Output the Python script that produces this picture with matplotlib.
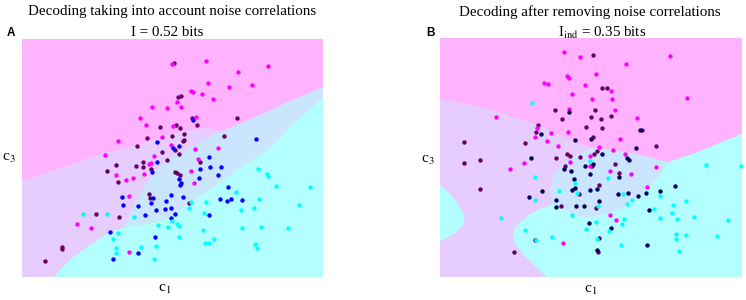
import matplotlib
matplotlib.use('Agg')
import matplotlib.pyplot as plt

plt.rcParams['font.family'] = ['Liberation Serif', 'DejaVu Serif']
plt.rcParams['mathtext.fontset'] = 'stix'

# --- data (c1, c3); c3 axis runs downward ---

# panel A: decoding with noise correlations
a_magenta = [(172, 64), (206, 61), (238, 72), (268, 66), (208, 83), (229, 87), (252, 85),
             (191, 91), (193, 92), (202, 94), (213, 99), (177, 102), (181, 107), (152, 107),
             (167, 108), (196, 117), (140, 118), (146, 125), (173, 126), (162, 137), (118, 141),
             (171, 145), (218, 148), (195, 149), (105, 155), (154, 156), (198, 159), (149, 164),
             (151, 163), (116, 175), (126, 180), (133, 178), (144, 174), (191, 171), (194, 183),
             (129, 196), (77, 224), (91, 228), (129, 252)]
a_dark = [(174, 63), (178, 97), (181, 96), (192, 118), (237, 118), (197, 125), (160, 127),
          (176, 125), (180, 128), (184, 134), (172, 136), (147, 138), (224, 136), (183, 141),
          (184, 140), (137, 146), (175, 150), (179, 154), (162, 152), (200, 162), (167, 160),
          (116, 165), (136, 166), (143, 162), (143, 167), (151, 169), (107, 171), (118, 182),
          (175, 172), (177, 173), (180, 175), (149, 194), (150, 198), (189, 203), (119, 217),
          (96, 214), (62, 247), (62, 249), (45, 261)]
a_blue = [(193, 120), (256, 139), (157, 142), (179, 146), (173, 148), (209, 157), (157, 162),
          (152, 172), (210, 167), (221, 167), (200, 169), (218, 175), (199, 178), (179, 179),
          (181, 183), (180, 185), (228, 187), (122, 197), (153, 198), (171, 195), (151, 203),
          (166, 201), (183, 197), (220, 199), (227, 201), (231, 199), (242, 200), (123, 205),
          (138, 206), (156, 210), (165, 209), (171, 208), (209, 215), (175, 214), (145, 215),
          (171, 218), (110, 232), (155, 237), (138, 253), (113, 259)]
a_cyan = [(258, 169), (267, 174), (268, 176), (276, 186), (310, 187), (236, 192), (191, 202),
          (206, 202), (259, 199), (299, 205), (189, 208), (241, 210), (254, 208), (204, 213),
          (172, 221), (83, 214), (107, 214), (134, 217), (158, 225), (168, 227), (177, 224),
          (179, 226), (242, 228), (261, 227), (288, 228), (118, 233), (203, 230), (113, 239),
          (179, 237), (214, 239), (205, 243), (209, 243), (156, 246), (116, 248), (141, 247),
          (255, 244), (257, 248), (116, 253), (154, 259)]

# decision region edges, panel A
a_pink_edge = [(22, 181), (60, 168), (98, 155), (125, 148), (150, 141), (175, 133), (195, 129),
               (208, 128), (218, 130), (222, 131), (260, 115), (290, 101), (323, 87)]
a_split_edge = [(222, 131), (200, 142), (187, 150), (171, 157), (160, 166), (150, 178),
                (142, 190), (134, 205), (128, 217), (124, 227)]
a_cyan_edge = [(54, 277), (60, 270), (72, 258), (90, 245), (108, 233), (124, 227), (150, 224),
               (170, 217), (190, 203), (215, 186), (240, 168), (260, 155), (270, 148),
               (295, 122), (323, 98)]

# panel B: decoding after removing noise correlations
b_magenta = [(564, 52), (580, 57), (670, 56), (626, 64), (596, 74), (567, 76), (569, 78),
             (544, 83), (548, 84), (585, 85), (611, 91), (572, 94), (592, 99), (612, 99),
             (687, 98), (569, 109), (615, 110), (637, 118), (496, 117), (537, 128), (551, 133),
             (568, 132), (535, 137), (547, 141), (620, 139), (558, 146), (599, 147), (613, 150),
             (625, 154), (590, 156), (524, 163), (510, 169), (570, 162), (590, 166), (656, 167),
             (610, 171), (631, 174), (647, 187), (610, 215), (616, 220), (563, 243)]
b_dark = [(593, 55), (602, 88), (607, 88), (555, 110), (595, 110), (591, 117), (601, 119),
          (611, 116), (562, 119), (538, 125), (586, 127), (602, 128), (536, 132), (642, 130),
          (593, 137), (464, 142), (525, 143), (656, 146), (597, 151), (594, 154), (567, 154),
          (570, 156), (556, 158), (580, 157), (480, 160), (464, 163), (565, 166), (592, 166),
          (615, 164), (619, 173), (480, 189), (599, 185), (579, 194), (561, 206), (596, 208),
          (535, 240), (599, 238), (598, 252), (514, 252)]
b_navy = [(569, 112), (541, 134), (640, 130), (575, 140), (591, 139), (636, 148), (531, 158),
          (602, 154), (627, 158), (629, 160), (564, 169), (571, 171), (585, 166), (593, 164),
          (619, 177), (590, 174), (574, 179), (575, 188), (572, 190), (542, 191), (590, 190),
          (597, 189), (675, 186), (646, 193), (618, 194), (628, 193), (638, 196), (660, 191),
          (529, 197), (556, 200), (556, 207), (576, 206), (584, 206), (599, 201), (649, 210),
          (589, 223), (611, 228), (647, 245), (597, 250)]
b_cyan = [(532, 103), (590, 161), (535, 177), (575, 183), (559, 191), (577, 193), (608, 178),
          (623, 194), (660, 196), (535, 200), (598, 206), (627, 204), (632, 200), (501, 218),
          (572, 215), (624, 219), (622, 224), (654, 209), (660, 218), (672, 213), (673, 205),
          (677, 219), (686, 201), (694, 217), (728, 220), (706, 165), (596, 222), (586, 229),
          (609, 231), (525, 230), (552, 237), (536, 240), (597, 239), (621, 245), (676, 234),
          (676, 239), (686, 235), (717, 236), (679, 251), (741, 166)]

# decision region edges, panel B
b_pink_edge = [(440, 99), (460, 102), (480, 107), (500, 112), (520, 119), (540, 126), (560, 135),
               (580, 144), (592, 148), (605, 149), (620, 151), (645, 156), (668, 162),
               (690, 155), (715, 145), (742, 134)]
b_blob_edge = [(592, 148), (578, 154), (565, 162), (556, 172), (551, 183), (550, 195),
               (553, 204)]
b_cyan_edge = [(547, 277), (535, 266), (522, 253), (514, 242), (513, 232), (518, 224),
               (530, 214), (542, 208), (553, 204), (565, 210), (578, 216), (590, 218),
               (607, 214), (623, 208), (638, 198), (650, 187), (660, 175), (668, 162),
               (690, 155), (715, 145), (742, 134)]
b_left_bulge = [(440, 185), (448, 192), (456, 201), (462, 210), (465, 218), (462, 227),
                (454, 234), (440, 241)]

# colours
PINK = '#ffb3ff'
LAVENDER = '#e6ccff'
LIGHTBLUE = '#cce5ff'
CYANBG = '#b3ffff'
col_magenta = '#ff00ff'
col_dark = '#660066'
col_cyan = '#00ffff'


def fill_poly(ax, pts, color):
    xs, ys = zip(*pts)
    ax.fill(xs, ys, color=color, lw=0, zorder=1)


def dots(ax, pts, color):
    xs, ys = zip(*pts)
    ax.scatter(xs, ys, s=10, c=color, lw=0, zorder=3)


fig = plt.figure(figsize=(7.46, 3.0), dpi=100)

# panel A
xa0, xa1, ya0, ya1 = 22, 323, 39, 277
axA = fig.add_axes([xa0 / 746, 1 - ya1 / 300, (xa1 - xa0) / 746, (ya1 - ya0) / 300])
axA.set_facecolor(PINK)
fill_poly(axA, a_pink_edge + [(xa1, ya1), (xa0, ya1)], LAVENDER)
fill_poly(axA, a_split_edge + [(124, ya1), (xa1, ya1)] + a_pink_edge[::-1][:4], LIGHTBLUE)
fill_poly(axA, a_cyan_edge + [(xa1, ya1)], CYANBG)
dots(axA, a_dark, col_dark)
dots(axA, a_magenta, col_magenta)
dots(axA, a_blue, '#0000ff')
dots(axA, a_cyan, col_cyan)
axA.set_xlim(xa0, xa1)
axA.set_ylim(ya1, ya0)

# panel B
xb0, xb1, yb0, yb1 = 440, 742, 38, 277
axB = fig.add_axes([xb0 / 746, 1 - yb1 / 300, (xb1 - xb0) / 746, (yb1 - yb0) / 300])
axB.set_facecolor(PINK)
fill_poly(axB, b_pink_edge + [(xb1, yb1), (xb0, yb1)], LAVENDER)
fill_poly(axB, b_blob_edge + [(560, yb1), (xb1, yb1)] + b_pink_edge[::-1][:8], LIGHTBLUE)
fill_poly(axB, b_cyan_edge + [(xb1, yb1)], CYANBG)
fill_poly(axB, b_left_bulge, CYANBG)
dots(axB, b_dark, col_dark)
dots(axB, b_magenta, col_magenta)
dots(axB, b_navy, '#000060')
dots(axB, b_cyan, col_cyan)
axB.set_xlim(xb0, xb1)
axB.set_ylim(yb1, yb0)

for ax in (axA, axB):
    ax.set_xticks([])
    ax.set_yticks([])
    for sp in ax.spines.values():
        sp.set_visible(False)

# titles and labels
fig.text(172 / 746, 1 - 12 / 300, 'Decoding taking into account noise correlations',
         ha='center', va='center', fontsize=10.8)
fig.text(167 / 746, 1 - 32 / 300, 'I = 0.52 bits', ha='center', va='center', fontsize=10.8)
fig.text(590 / 746, 1 - 12 / 300, 'Decoding after removing noise correlations',
         ha='center', va='center', fontsize=10.8)
fig.text(602 / 746, 1 - 33 / 300, r'I$_{\mathrm{ind}}$ = 0.35 bits', ha='center',
         va='center', fontsize=10.8)
fig.text(11 / 746, 1 - 33 / 300, 'A', ha='center', va='center', fontsize=8.5,
         fontweight='bold', family='Liberation Sans')
fig.text(430 / 746, 1 - 33 / 300, 'B', ha='center', va='center', fontsize=8.5,
         fontweight='bold', family='Liberation Sans')
fig.text(9 / 746, 1 - 158 / 300, r'c$_3$', ha='center', va='center', fontsize=11)
fig.text(428 / 746, 1 - 160 / 300, r'c$_3$', ha='center', va='center', fontsize=11)
fig.text(165 / 746, 1 - 289 / 300, r'c$_1$', ha='center', va='center', fontsize=11)
fig.text(591 / 746, 1 - 290 / 300, r'c$_1$', ha='center', va='center', fontsize=11)

fig.savefig('out.png', dpi=100)
